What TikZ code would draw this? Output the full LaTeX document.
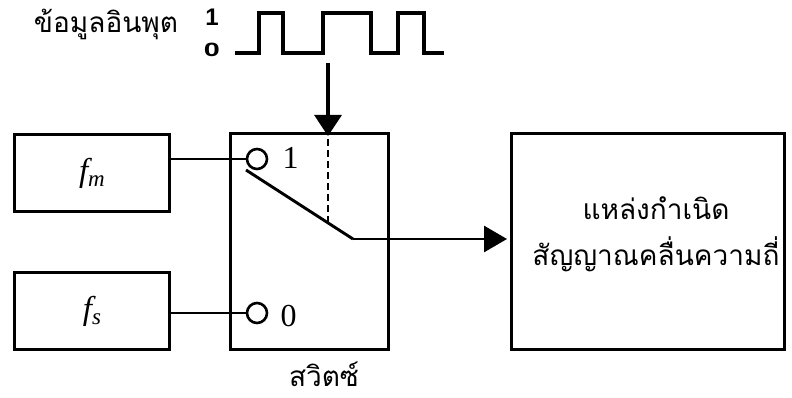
\documentclass[tikz,border=0pt]{standalone}
\usepackage{fontspec}
\usepackage{graphicx}
\setmainfont{Liberation Serif}
\newfontfamily\thaifont[Script=Thai]{Loma}
\newfontfamily\labsans{Liberation Sans}
\usetikzlibrary{arrows.meta}
\begin{document}
\begin{tikzpicture}[x=1pt,y=-1pt,
  blk/.style={draw,line width=2.9pt,minimum width=155pt,minimum height=77pt,anchor=north west,inner sep=0pt},
  wire/.style={line width=2.9pt},
  term/.style={draw,circle,line width=2.6pt,minimum size=20pt,inner sep=0pt},
  tipd/.style={-{Triangle[width=27pt,length=21pt]}},
  tipr/.style={-{Triangle[width=26pt,length=23pt]}},
  thai/.style={font=\thaifont\fontsize{28}{34}\selectfont},
  num/.style={font=\fontsize{32}{36}\selectfont},
  lvl/.style={font=\labsans\bfseries\fontsize{24}{26}\selectfont}]
\useasboundingbox (0,0) rectangle (792,398);
% boxes
\node[blk] (fm) at (13,133) {\fontsize{33}{36}\selectfont\itshape f\raisebox{-0.35ex}{\fontsize{23}{24}\selectfont m}};
\node[blk] (fs) at (13,271) {\fontsize{33}{36}\selectfont\itshape f\raisebox{-0.35ex}{\fontsize{23}{24}\selectfont s}};
\node[blk,minimum width=158pt,minimum height=216pt] (sw) at (229,132) {};
\node[blk,minimum width=273pt,minimum height=216pt] (gen) at (510,132) {};
\node[thai,align=center] (gentxt) at (656,234) {แหล่งกำเนิด\\[12pt]สัญญาณคลื่นความถี่};
\node[thai] (swlab) at (324,374) {สวิตซ์};
\node[thai] (inlab) at (106,24) {ข้อมูลอินพุต};
% terminals
\node[term] (t1) at (257,159) {};
\node[term] (t0) at (257,313) {};
\node[num,anchor=west] (l1) at (279,158) {1};
\node[num,anchor=west] (l0) at (277,316) {0};
\draw[wire] (fm.east |- t1) -- (t1.west);
\draw[wire] (fs.east |- t0) -- (t0.west);
% lever
\coordinate (lv0) at (246,170);
\coordinate (lv1) at (353,239);
\coordinate (dj) at (328,223);
\draw[wire] (lv0) -- (lv1);
\draw[wire,tipr] (lv1) -- ([xshift=-3pt]lv1 -| gen.west);
\draw[wire,dash pattern=on 7pt off 4pt] (dj) -- (dj |- sw.north);
% waveform
\node[lvl] (h1) at (212,17) {1};
\node[lvl] (h0) at (212,50) {\scalebox{1.2}[0.8]{0}};
\draw[line width=3.2pt,line join=miter] (235,53) -- (259,53) -- (259,13) -- (283,13) -- (283,53) -- (323,53) -- (323,13) -- (371,13) -- (371,53) -- (398,53) -- (398,13) -- (424,13) -- (424,53) -- (444,53);
\coordinate (arrtop) at (328,63);
\draw[line width=3.2pt,tipd] (arrtop) -- ([yshift=-4pt]arrtop |- sw.north);
\end{tikzpicture}
\end{document}
